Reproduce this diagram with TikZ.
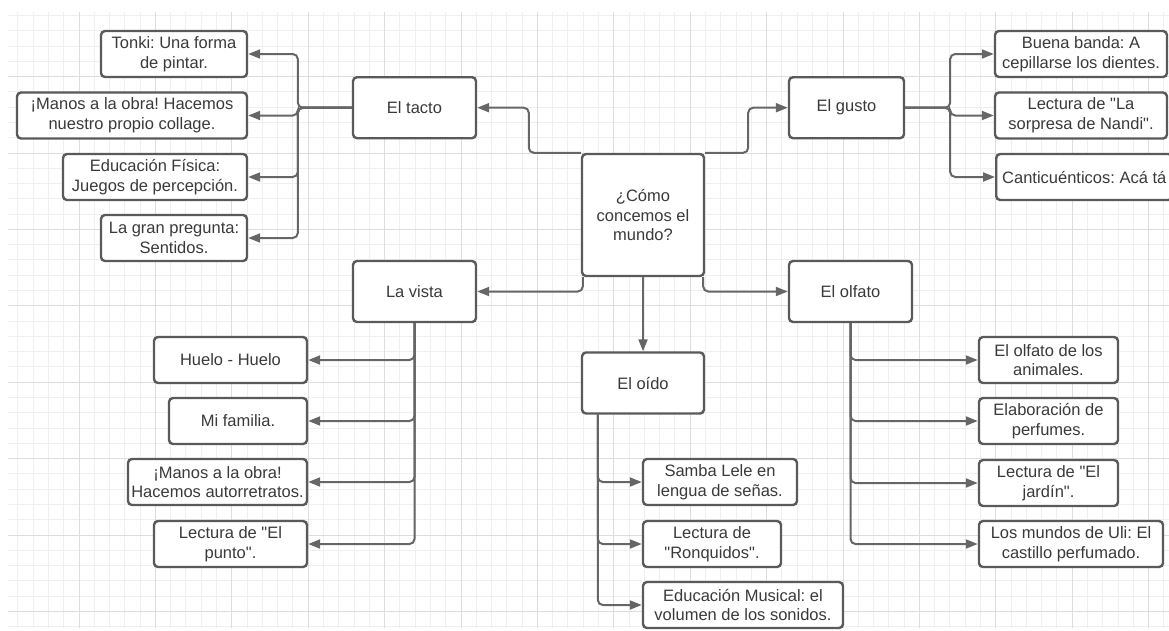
\documentclass[tikz,border=0pt]{standalone}
\usepackage{fontspec}
\newfontfamily\liber{Liberation Sans}
\usetikzlibrary{arrows.meta}
\definecolor{boxgray}{HTML}{5A5A5A}
\definecolor{linegray}{HTML}{666666}
\definecolor{textgray}{HTML}{3A3A3A}
\definecolor{gridminor}{HTML}{EFEFEF}
\definecolor{gridmajor}{HTML}{DDDDDD}
\frenchspacing

\begin{document}
\begin{tikzpicture}[x=1pt, y=-1pt, >={Triangle[length=12pt,width=9pt]},
  tema/.style={draw=boxgray, line width=2.4pt, rounded corners=4pt, fill=white,
    text=textgray, align=center, inner sep=2pt,
    font=\liber\fontsize{16.5}{19.8}\selectfont, minimum height=46pt},
  conn/.style={->, draw=linegray, line width=2pt, rounded corners=5pt}]
  \useasboundingbox (0,0) rectangle (1169,630);
  \clip (0,0) rectangle (1169,630);
  % grid
  \foreach \k in {1,...,76} {\draw[gridminor] ({2.3+15.28*\k},12) -- ({2.3+15.28*\k},628);}
  \foreach \k in {0,...,40} {\draw[gridminor] (8,{15.2+15.28*\k}) -- (1169,{15.2+15.28*\k});}
  \foreach \k in {1,...,15} {\draw[gridmajor] ({2.3+76.4*\k},12) -- ({2.3+76.4*\k},628);}
  \foreach \k in {0,...,7} {\draw[gridmajor] (8,{76.3+76.4*\k}) -- (1169,{76.3+76.4*\k});}
  % main topics
  \node[tema, minimum width=122pt, minimum height=122pt] (centro) at (643,215) {¿Cómo\\concemos el\\mundo?};
  \node[tema, minimum width=123pt, minimum height=61pt] (tacto) at (414.5,107.7) {El tacto};
  \node[tema, minimum width=115pt, minimum height=61pt] (gusto) at (846.5,107.7) {El gusto};
  \node[tema, minimum width=123pt, minimum height=61pt] (vista) at (414.5,291.5) {La vista};
  \node[tema, minimum width=123pt, minimum height=61pt] (olfato) at (850.5,291.5) {El olfato};
  \node[tema, minimum width=122pt, minimum height=61pt] (oido) at (643,383) {El oído};
  % el tacto
  \node[tema, minimum width=146pt] (tonki) at (174,54) {Tonki: Una forma\\de pintar.};
  \node[tema, minimum width=230pt] (collage) at (132,115.5) {¡Manos a la obra! Hacemos\\nuestro propio collage.};
  \node[tema, minimum width=184pt] (fisica) at (155,177) {Educación Física:\\Juegos de percepción.};
  \node[tema, minimum width=146pt] (pregunta) at (174,238) {La gran pregunta:\\Sentidos.};
  % el gusto
  \node[tema, minimum width=172pt] (banda) at (1081,54) {Buena banda: A\\cepillarse los dientes.};
  \node[tema, minimum width=172pt] (sorpresa) at (1081,115.5) {Lectura de "La\\sorpresa de Nandi".};
  \node[tema, anchor=west, inner xsep=6pt] (cantic) at (995,177) {Canticuénticos: Acá tá};
  % la vista
  \node[tema, minimum width=153pt] (huelo) at (230.5,360) {Huelo - Huelo};
  \node[tema, minimum width=138pt] (familia) at (238,421) {Mi familia.};
  \node[tema, minimum width=179pt] (retratos) at (217.5,482) {¡Manos a la obra!\\Hacemos autorretratos.};
  \node[tema, minimum width=153pt] (punto) at (230.5,544) {Lectura de "El\\punto".};
  % el oido
  \node[tema, minimum width=154pt] (samba) at (720,482) {Samba Lele en\\lengua de señas.};
  \node[tema, minimum width=138pt] (ronquidos) at (712,544) {Lectura de\\"Ronquidos".};
  \node[tema, minimum width=200pt] (musical) at (743,605) {Educación Musical: el\\volumen de los sonidos.};
  % el olfato
  \node[tema, minimum width=139pt] (animales) at (1048.5,360) {El olfato de los\\animales.};
  \node[tema, minimum width=139pt] (perfumes) at (1048.5,421) {Elaboración de\\perfumes.};
  \node[tema, minimum width=139pt] (jardin) at (1048.5,483) {Lectura de "El\\jardín".};
  \node[tema, minimum width=184pt] (uli) at (1071,544) {Los mundos de Uli: El\\castillo perfumado.};
  % connectors
  \draw[conn] (centro.north west) -- ++(-52,0) |- (tacto.east);
  \draw[conn] (centro.north east) -- ++(43,0) |- (gusto.west);
  \draw[conn] ([xshift=2pt]centro.south west) |- (vista.east);
  \draw[conn] ([xshift=-2pt]centro.south east) |- (olfato.west);
  \draw[conn] (centro.south) -- (oido.north);
  \foreach \h in {tonki,collage,fisica,pregunta} {\draw[conn] (tacto.west) -- ++(-54,0) |- (\h.east);}
  \foreach \h in {banda,sorpresa,cantic} {\draw[conn] (gusto.east) -- ++(45,0) |- (\h.west);}
  \foreach \h in {huelo,familia,retratos,punto} {\draw[conn] (vista.south) |- (\h.east);}
  \foreach \h in {samba,ronquidos,musical} {\draw[conn] ([xshift=17pt]oido.south west) |- (\h.west);}
  \foreach \h in {animales,perfumes,jardin,uli} {\draw[conn] (olfato.south) |- (\h.west);}
\end{tikzpicture}
\end{document}
